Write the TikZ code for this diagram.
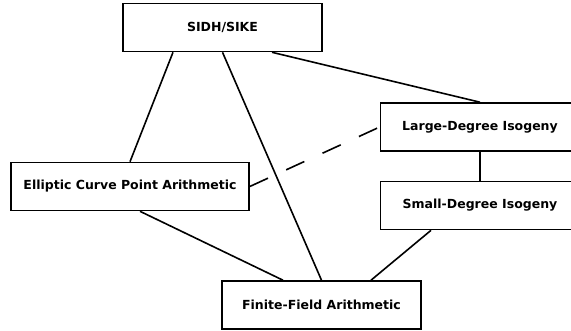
\documentclass[tikz,border=0pt]{standalone}
\usepackage{fontspec}
\setmainfont{DejaVu Sans}
\usepackage{tikz}
\usetikzlibrary{shapes.geometric, calc}
\tikzstyle{block} = [rectangle, minimum height=48pt, text centered, draw=black, line width=1.6pt, fill=white, font=\bfseries\fontsize{12.5}{14}\selectfont]
\tikzstyle{wide} = [block, minimum width=199pt]
\tikzstyle{link} = [line width=1.6pt]
\tikzstyle{weak} = [link, dash pattern=on 20pt off 20pt]

\begin{document}
\begin{tikzpicture}[x=1pt, y=-1pt, node distance = 78.5pt]
  \useasboundingbox (0,0) rectangle (571,330);
  \node (sidh) [wide] at (222.5,27.5) {SIDH/SIKE};
  \node (ecpa) [block, minimum width=238pt] at (130,186.5) {Elliptic Curve Point Arithmetic};
  \node (large) [wide] at (480,127) {Large-Degree Isogeny};
  \node (small) [wide, below of = large] {Small-Degree Isogeny};
  \node (field) [wide] at (321.5,305) {Finite-Field Arithmetic};
  \draw [link] ([xshift=-49.5pt]sidh.south) -- (ecpa.north);
  \draw [link] (sidh.south) -- (field.north);
  \draw [link] ([xshift=49.5pt]sidh.south) -- (large.north);
  \draw [weak] (ecpa.east) -- (large.west);
  \draw [link] (large) -- (small);
  \draw [link] ([xshift=-49pt]small.south) -- ([xshift=49.5pt]field.north);
  \draw [link] ([xshift=10pt]ecpa.south) -- ([xshift=-38.5pt]field.north);
\end{tikzpicture}
\end{document}
